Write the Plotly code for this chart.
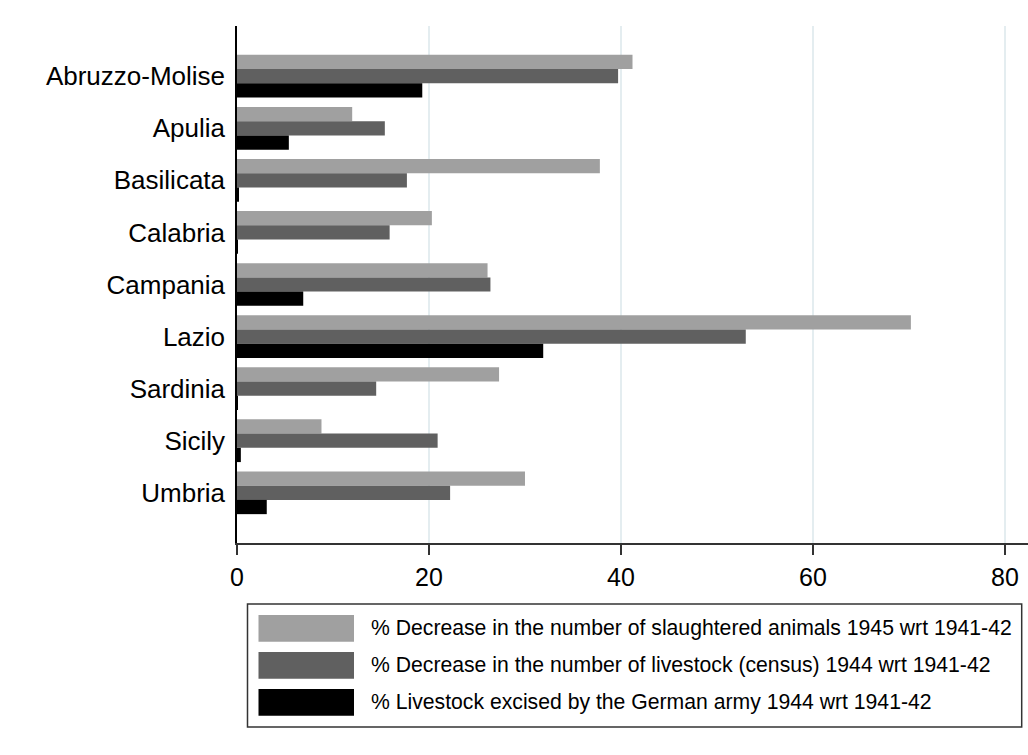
import plotly.graph_objects as go

regions = ["Abruzzo-Molise", "Apulia", "Basilicata", "Calabria", "Campania",
           "Lazio", "Sardinia", "Sicily", "Umbria"]
slaughtered = [41.2, 12.0, 37.8, 20.3, 26.1, 70.2, 27.3, 8.8, 30.0]
census = [39.7, 15.4, 17.7, 15.9, 26.4, 53.0, 14.5, 20.9, 22.2]
excised = [19.3, 5.4, 0.15, 0.1, 6.9, 31.9, 0.1, 0.4, 3.1]
series_names = [
    "% Decrease in the number of slaughtered animals 1945 wrt 1941-42",
    "% Decrease in the number of livestock (census) 1944 wrt 1941-42",
    "% Livestock excised by the German army 1944 wrt 1941-42",
]
series_values = [slaughtered, census, excised]
series_colors = ["#a0a0a0", "#606060", "#000000"]
x_ticks = [0, 20, 40, 60, 80]

W, H = 1028, 755
L, R, T, B = 237, 0, 26, 212
PW, PH = W - L - R, H - T - B

fig = go.Figure()
for name, vals, col in zip(series_names, series_values, series_colors):
    fig.add_trace(go.Bar(
        y=regions, x=vals, name=name, orientation="h",
        marker=dict(color=col, line=dict(width=0)),
        showlegend=False,
    ))

def px_x(p):
    return (p - L) / PW

def px_y(p):
    return (H - B - p) / PH

shapes = [dict(type="rect", xref="paper", yref="paper",
               x0=px_x(247.5), x1=px_x(1021.7), y0=px_y(604), y1=px_y(727),
               line=dict(color="#333333", width=1.5), fillcolor="rgba(0,0,0,0)")]
annotations = []
row_tops = [615, 652, 689]
for i, (name, col) in enumerate(zip(series_names, series_colors)):
    top = row_tops[i]
    shapes.append(dict(type="rect", xref="paper", yref="paper",
                       x0=px_x(258.5), x1=px_x(354), y0=px_y(top), y1=px_y(top + 26.7),
                       line=dict(width=0), fillcolor=col))
    annotations.append(dict(xref="paper", yref="paper", x=px_x(369), y=px_y(top + 13.3),
                            text=name, showarrow=False, xanchor="left", yanchor="middle",
                            font=dict(family="Liberation Sans, Arial", size=21.2, color="#000000")))

fig.update_layout(
    width=W, height=H,
    margin=dict(l=L, r=R, t=T, b=B, pad=0),
    paper_bgcolor="white", plot_bgcolor="white",
    barmode="group", bargap=0.18, bargroupgap=0,
    font=dict(family="Liberation Sans, Arial", color="#000000"),
    shapes=shapes, annotations=annotations,
    xaxis=dict(range=[0, 82.4], tickvals=x_ticks, ticktext=[str(v) for v in x_ticks],
               showgrid=True, gridcolor="#e4edf0", gridwidth=1.5,
               zeroline=False, showline=True, linecolor="#333333", linewidth=2,
               ticks="outside", ticklen=10, tickwidth=2, tickcolor="#333333",
               tickfont=dict(size=25), ticklabelstandoff=1),
    yaxis=dict(range=[8.964, -0.964], showgrid=False, zeroline=False,
               showline=True, linecolor="#000000", linewidth=1.5,
               ticks="", tickfont=dict(size=26), ticklabelstandoff=5),
)

fig.write_html("out.html",
               config={"displayModeBar": False},
               post_script="document.body.style.margin='0';document.body.style.overflow='hidden';")
